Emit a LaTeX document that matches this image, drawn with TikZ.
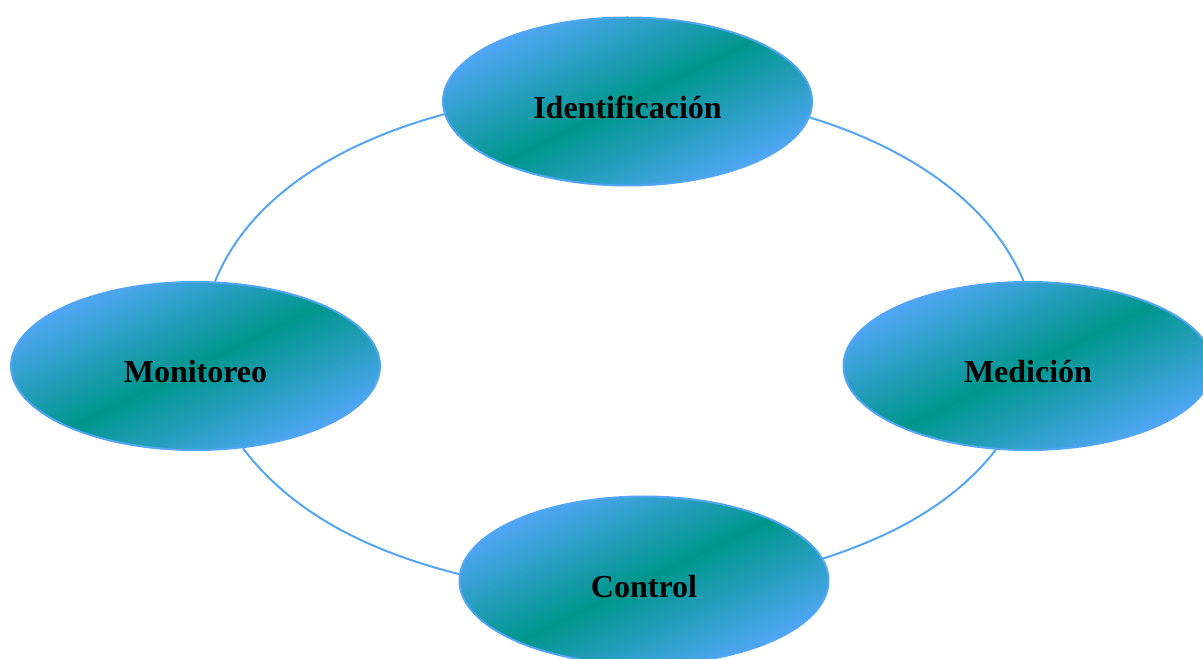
\documentclass[tikz,border=0pt]{standalone}
\usepackage{fontspec}
\setmainfont{Liberation Serif}
\usetikzlibrary{shapes.geometric}
\definecolor{skyblue}{RGB}{78,166,242}
\definecolor{deepteal}{RGB}{0,150,140}
\definecolor{rimblue}{RGB}{82,166,245}
\begin{document}
\begin{tikzpicture}[x=1pt,y=1pt,
  stage/.style={ellipse, draw=rimblue, line width=2pt, fill=skyblue,
    minimum width=369pt, minimum height=168pt, inner sep=0pt,
    % a tilted blue--teal--blue gradient inside the ellipse
    path picture={
      \begin{scope}[transform canvas={rotate around={26:(path picture bounding box.center)}}]
        \shade[top color=skyblue, bottom color=skyblue, middle color=deepteal]
          ([shift={(-240,-108)}]path picture bounding box.center) rectangle
          ([shift={(240,108)}]path picture bounding box.center);
      \end{scope}},
    font=\fontsize{32}{38}\selectfont\bfseries,
    text height=34pt, text depth=0pt},
  link/.style={draw=rimblue, line width=2pt, looseness=0.88}]
\useasboundingbox (0,0) rectangle (1203,659);
\clip (0,0) rectangle (1203,659);

% the four stages of the cycle
\node[stage] (ident) at (627.5,557.5) {Identificación};
\node[stage] (mon)   at (195.5,293)   {Monitoreo};
\node[stage] (med)   at (1028,293)    {Medición};
\node[stage] (ctrl)  at (644,78.5)    {Control};

% arcs joining neighbouring stages
\draw[link] (ident.184) to[out=195, in=68]  (mon.77);
\draw[link] (ident.355) to[out=-17, in=113] (med.93);
\draw[link] (mon.300)   to[out=-53, in=166] (ctrl.178);
\draw[link] (med.249)   to[out=232, in=18]  (ctrl.7);
\end{tikzpicture}
\end{document}
